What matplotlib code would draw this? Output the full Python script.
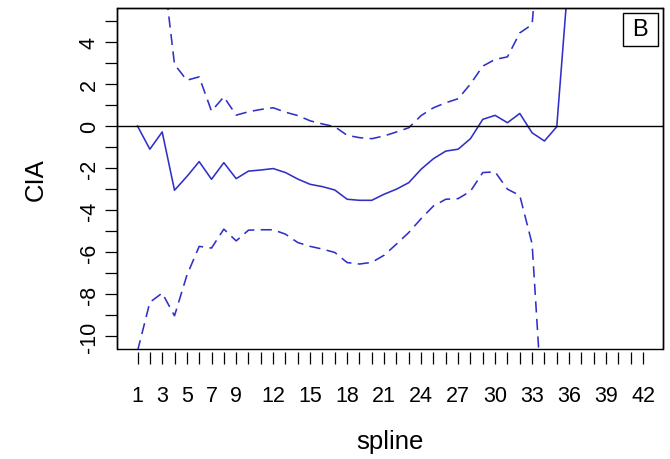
import numpy as np
import matplotlib
matplotlib.use("Agg")
import matplotlib.pyplot as plt
from matplotlib.patches import Rectangle

plt.rcParams['font.family'] = ['Liberation Sans', 'DejaVu Sans']

# ---- data ----
center = [0, -1.1, -0.28, -3.05, -2.4, -1.69, -2.53, -1.74, -2.5, -2.14,
          -2.09, -2.02, -2.21, -2.52, -2.77, -2.88, -3.04, -3.48, -3.53, -3.53,
          -3.24, -3.0, -2.69, -2.05, -1.55, -1.19, -1.1, -0.6, 0.32, 0.51,
          0.16, 0.6, -0.32, -0.71, -0.03, 7.5]
upper = [25, 15, 7.9, 2.93, 2.18, 2.34, 0.71, 1.39, 0.52, 0.68,
         0.79, 0.87, 0.66, 0.5, 0.25, 0.1, -0.03, -0.44, -0.55, -0.6,
         -0.47, -0.28, -0.08, 0.5, 0.87, 1.11, 1.3, 2.0, 2.85, 3.17,
         3.29, 4.43, 4.83, 12]
lower = [-10.7, -8.38, -7.94, -9.02, -7.1, -5.72, -5.8, -4.9, -5.46, -4.95,
         -4.93, -4.93, -5.14, -5.54, -5.72, -5.85, -6.01, -6.49, -6.56, -6.48,
         -6.14, -5.61, -5.06, -4.4, -3.8, -3.48, -3.45, -3.1, -2.21, -2.18,
         -3.0, -3.3, -5.6, -15]
xticks = list(range(1, 43))
xlabels_shown = [1, 3, 5, 7, 9, 12, 15, 18, 21, 24, 27, 30, 33, 36, 39, 42]
yticks = list(range(-10, 6))
ylabels_shown = [4, 2, 0, -2, -4, -6, -8, -10]

col = '#3030c8'
dash = (0, (7, 4))

fig = plt.figure(figsize=(6.7, 4.6), dpi=100)
ax = fig.add_axes([117.3/670, 1-350/460, (663.3-117.3)/670, (350-9.3)/460])

ax.plot(range(1, len(center)+1), center, color=col, lw=1.15)
ax.plot(range(1, len(upper)+1), upper, color=col, lw=1.15, linestyle=dash)
ax.plot(range(1, len(lower)+1), lower, color=col, lw=1.15, linestyle=dash)
ax.axhline(0, color='black', lw=1.0)

ax.set_xlim(-0.64, 43.64)
ax.set_ylim(-10.6, 5.6)

ax.set_xticks(xticks)
ax.set_xticklabels([str(v) if v in xlabels_shown else '' for v in xticks])
ax.set_yticks(yticks)
ax.set_yticklabels([str(v) if v in ylabels_shown else '' for v in yticks],
                   rotation=90, va='center')

ax.tick_params(axis='x', length=8.6, width=0.9, pad=15, labelsize=15.5)
ax.tick_params(axis='y', length=8.6, width=0.9, pad=4, labelsize=15.5)

ax.spines['bottom'].set_position(('outward', 2.2))
ax.spines['bottom'].set_visible(False)
for s in ['top', 'left', 'right']:
    ax.spines[s].set_linewidth(1.0)
ax.add_patch(Rectangle((0, 0), 1, 1, transform=ax.transAxes, fill=False,
                       edgecolor='black', lw=1.0, clip_on=False, zorder=5))

ax.set_xlabel('spline', fontsize=18.5, labelpad=17)
ax.set_ylabel('CIA', fontsize=18.5, labelpad=22)

ax.add_patch(Rectangle((0.9256, 0.8902), 0.0641, 0.096, transform=ax.transAxes,
                       fill=False, edgecolor='black', lw=1.0, zorder=6))
ax.text(0.9576, 0.938, 'B', transform=ax.transAxes, ha='center', va='center',
        fontsize=17)

fig.savefig('out.png', dpi=100)
